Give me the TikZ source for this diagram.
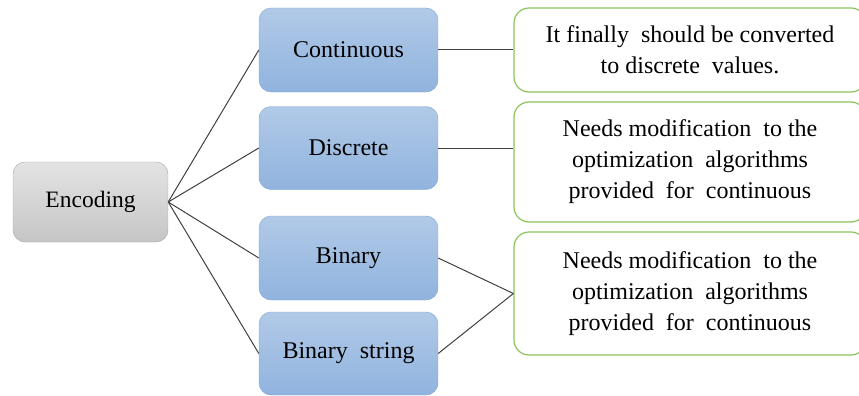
\documentclass[tikz,border=0pt]{standalone}
\usepackage{fontspec}
\setmainfont{Liberation Serif}
\definecolor{encgray}{RGB}{166,166,166}
\definecolor{typeblue}{RGB}{125,166,216}
\definecolor{notegreen}{RGB}{141,195,92}
\usetikzlibrary{shapes,positioning,calc}

\begin{document}
\begin{tikzpicture}[x=1pt, y=-1pt,
    root/.style={draw=encgray, rounded corners=12pt, top color=gray!22, bottom color=gray!45,
        minimum width=155pt, minimum height=80pt, font=\fontsize{23.5}{28}\selectfont},
    kind/.style={draw=typeblue, rounded corners=12pt, top color=typeblue!60, bottom color=typeblue!85,
        minimum width=179pt, minimum height=84pt, font=\fontsize{24}{28}\selectfont},
    note/.style={draw=notegreen, line width=1.2pt, rounded corners=15pt, fill=white,
        minimum width=352pt, align=center, font=\fontsize{24}{31}\selectfont},
    link/.style={draw=black!75, line width=1pt}]
    \useasboundingbox (0,0) rectangle (859,396);

    % Encoding and its types
    \node[root] (enc) at (90.5,202) {Encoding};
    \node[kind] (cont) at (348.5,50) {Continuous};
    \node[kind, minimum height=83pt] (disc) at (348.5,148) {Discrete};
    \node[kind] (bin) at (348.5,258) {Binary};
    \node[kind, minimum height=83pt] (bstr) at (348.5,353.5) {Binary\ \ string};

    % Notes
    \node[note, minimum height=84pt] (fin) at (690,50)
        {It finally\ \ should be converted\\to discrete\ \ values.};
    \node[note, minimum height=120pt] (modA) at (690,162)
        {Needs modification\ \ to the\\optimization\ \ algorithms\\provided\ \ for\ \ continuous};
    \node[note, minimum height=123pt] (modB) at (690,293.5)
        {Needs modification\ \ to the\\optimization\ \ algorithms\\provided\ \ for\ \ continuous};

    \foreach \k in {cont,disc,bin,bstr}
        \draw[link] (enc.east) -- (\k.west);
    \draw[link] (cont.east) -- (fin.west);
    \draw[link] (disc.east) -- (disc.east -| modA.west);
    \draw[link] (bin.east) -- (modB.west);
    \draw[link] (bstr.east) -- (modB.west);
\end{tikzpicture}
\end{document}
